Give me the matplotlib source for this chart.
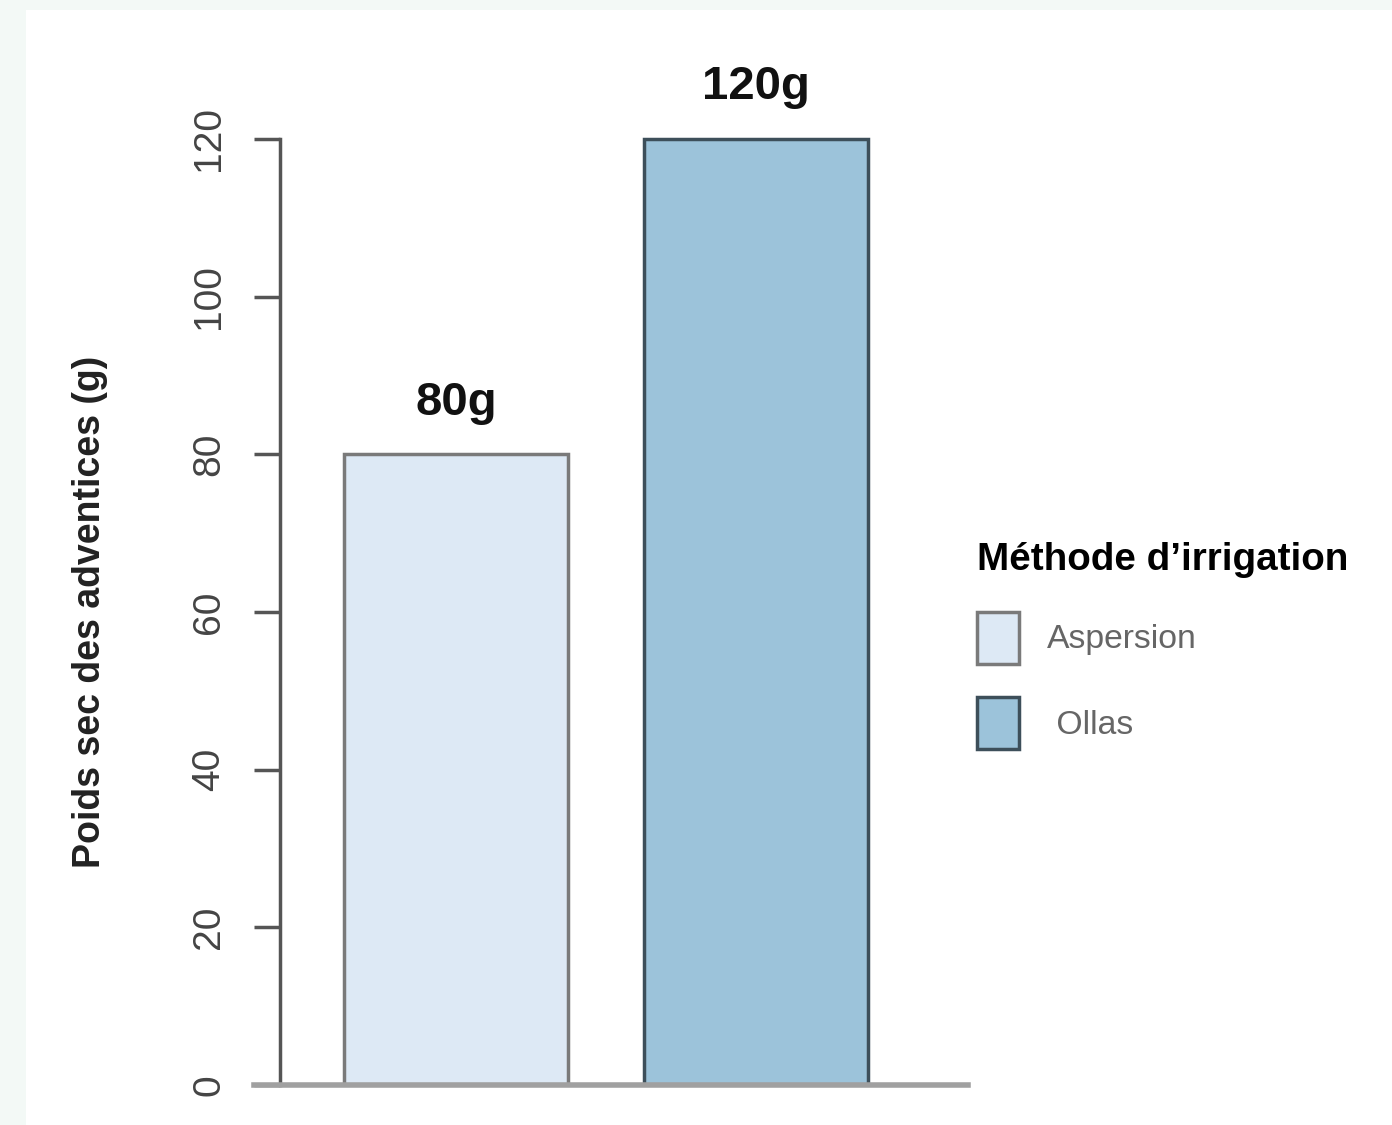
import matplotlib.pyplot as plt
from matplotlib.patches import Rectangle

plt.rcParams["font.family"] = ["Liberation Sans", "DejaVu Sans"]

# data
methods = ["Aspersion", "Ollas"]
weights = [80, 120]
bar_labels = ["80g", "120g"]
legend_labels = ["Aspersion", " Ollas"]
yticks = [0, 20, 40, 60, 80, 100, 120]

fills = ["#dde9f5", "#9cc3da"]
edges = ["#7a7a7a", "#3d4f5a"]

fig = plt.figure(figsize=(13.92, 11.25), dpi=100, facecolor="#f3f9f6")
# white panel behind everything
fig.patches.append(Rectangle((26 / 1392, 0), 1, 1 - 10 / 1125,
                             transform=fig.transFigure, facecolor="white",
                             edgecolor="none", zorder=-10))

ax = fig.add_axes([280 / 1392, 40 / 1125, 688 / 1392, 1025 / 1125])
ax.patch.set_alpha(0)

x = range(len(methods))
bars = ax.bar(x, weights, width=0.747, color=fills, edgecolor=edges,
              linewidth=2.5, zorder=2)

for xi, w, lab in zip(x, weights, bar_labels):
    ax.text(xi, w + 5, lab, ha="center", va="baseline",
            fontsize=34, fontweight="bold", color="#111111")

ax.set_xlim(-0.587, 1.707)
ax.set_ylim(0, 130)

for s in ["top", "right", "bottom"]:
    ax.spines[s].set_visible(False)
ax.spines["left"].set_bounds(0, 120)
ax.spines["left"].set_color("#555555")
ax.spines["left"].set_linewidth(2.5)

# baseline
ax.axhline(0, xmin=-0.038, xmax=1, color="#a0a0a0", lw=4,
           clip_on=False, zorder=3)

ax.set_xticks([])
ax.set_yticks(yticks)
ax.tick_params(axis="y", length=19, width=2.5, color="#555555",
               labelsize=28, labelcolor="#444444", labelrotation=90, pad=19)
for t in ax.get_yticklabels():
    t.set_va("center")

ax.set_ylabel("Poids sec des adventices (g)", fontsize=27, fontweight="bold",
              color="#222222", va="center")
ax.yaxis.set_label_coords(-0.276, 60 / 130)

fig.legend(bars, legend_labels, title="Méthode d\u2019irrigation",
           loc="upper left", bbox_to_anchor=(977 / 1392, 1 - 542 / 1125),
           frameon=False, fontsize=24.3, labelcolor="#666666",
           title_fontproperties={"weight": "bold", "size": 27.8},
           alignment="left", handlelength=1.24, handleheight=1.99,
           handletextpad=0.83, labelspacing=1.0, borderpad=0,
           borderaxespad=0)

fig.savefig("out.png", dpi=100, facecolor=fig.get_facecolor())
